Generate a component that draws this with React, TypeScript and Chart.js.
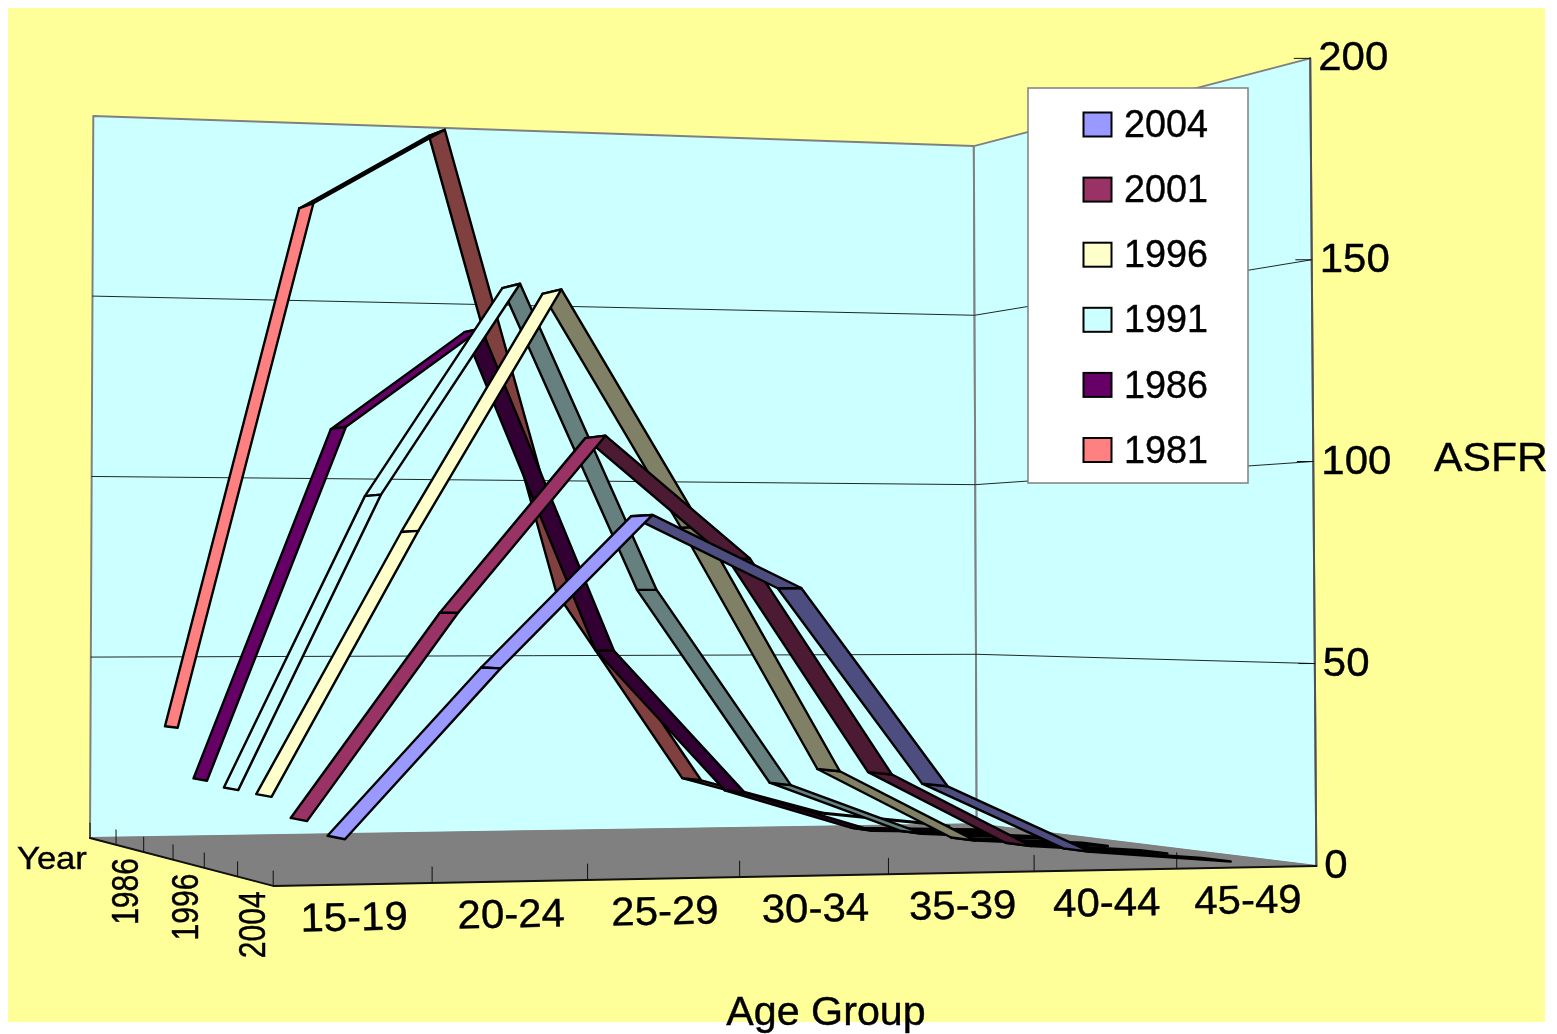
import React, { useEffect, useRef } from "react";
import { Chart, registerables } from "chart.js";

Chart.register(...registerables);

const ageGroups = ["15-19", "20-24", "25-29", "30-34", "35-39", "40-44", "45-49"];
const years = ["1981", "1986", "1991", "1996", "2001", "2004"];
const shownYears = ["1986", "1996", "2004"];
const valueTicks = [0, 50, 100, 150, 200];

const asfr1981 = [31, 175, 196.5, 68, 15, 5, 1];
const asfr1986 = [18, 112, 139, 52, 13, 2, 1];
const asfr1991 = [17, 93, 148.5, 68.5, 16.5, 3, 1];
const asfr1996 = [16.8, 83, 144.5, 84.5, 21.5, 3, 1];
const asfr2001 = [12.5, 62.5, 106, 76, 22, 3.5, 1];
const asfr2004 = [10, 49.5, 85.8, 68.5, 20.5, 4, 1];
const seriesValues = [asfr1981, asfr1986, asfr1991, asfr1996, asfr2001, asfr2004];

const seriesColors = ["#ff8080", "#660066", "#ccffff", "#ffffcc", "#993366", "#9999ff"];
const fallingColors = ["#804040", "#330033", "#668080", "#808066", "#4d1a33", "#4d4d80"];

const W = 1557;
const H = 1034;
const VALUE_MAX = 200;
const RIBBON_HALF = 0.038;

// Perspective of the 3D box: u along age axis, d from back wall to front, t height (all 0..1).
function project(u: number, d: number, t: number) {
  const xn = 124.65 + 1316 * u + 189 * d + 5.5 * t;
  const yn = 1160.6 + 55 * u - 143.6 * d - 999.5 * t;
  const wBase = 1.385 + 0.09 * u - 0.237 * d;
  return { x: xn / (wBase + 0.01 * t), y: yn / (wBase + 0.004 * t) };
}

const ageU = (i: number) => ((i + 0.5) / ageGroups.length) * 0.997;
const laneD = (k: number) => ((k + 0.5) / years.length) * 1.012;

function poly(points: { x: number; y: number }[], fill: string | null, stroke: string, width: number) {
  return {
    data: points,
    showLine: true,
    tension: 0,
    pointRadius: 0,
    pointHoverRadius: 0,
    borderColor: stroke,
    borderWidth: width,
    backgroundColor: fill ?? "transparent",
    fill: fill ? "shape" : false,
    borderJoinStyle: "round",
    borderCapStyle: "round",
    clip: false,
  };
}

function buildDatasets() {
  const out: any[] = [];
  const WALL = "#ccffff";
  const EDGE = "#808080";
  // back wall
  out.push(poly([project(0, 0, 0), project(1, 0, 0), project(1, 0, 1), project(0, 0, 1), project(0, 0, 0)], WALL, EDGE, 2));
  // side wall
  out.push(poly([project(1, 0, 0), project(1, 1, 0), project(1, 1, 1), project(1, 0, 1), project(1, 0, 0)], WALL, EDGE, 2));
  // floor
  out.push(poly([project(0, 0, 0), project(1, 0, 0), project(1, 1, 0), project(0, 1, 0), project(0, 0, 0)], "#808080", "#808080", 1));
  // grid lines
  valueTicks.slice(1, -1).forEach((v) => {
    const t = v / VALUE_MAX;
    out.push(poly([project(0, 0, t), project(1, 0, t), project(1, 1, t)], null, "#202828", 1));
  });
  // axis edges
  out.push(poly([project(1, 1, 0), project(1, 1, 1)], null, "#505050", 2));
  out.push(poly([project(0, 0, 0), project(0, 1, 0), project(1, 1, 0)], null, "#101010", 2));
  // axis ticks
  for (let i = 1; i < ageGroups.length; i++) {
    const p = project(i / ageGroups.length, 1, 0);
    out.push(poly([p, { x: p.x, y: p.y - 16 }], null, "#101010", 1));
  }
  for (let k = 0; k <= years.length; k++) {
    const p = project(0, k / years.length, 0);
    out.push(poly([p, { x: p.x, y: p.y - 15 }], null, "#101010", 1));
  }
  valueTicks.slice(1).forEach((v) => {
    const p = project(1, 1, v / VALUE_MAX);
    out.push(poly([p, { x: p.x - 16, y: p.y }], null, "#101010", 1));
  });
  // ribbons, back lane first, right-hand segments first within a lane
  seriesValues.forEach((vals, k) => {
    const d0 = laneD(k) - RIBBON_HALF;
    const d1 = laneD(k) + RIBBON_HALF;
    for (let i = vals.length - 2; i >= 0; i--) {
      const u0 = ageU(i);
      const u1 = ageU(i + 1);
      const t0 = vals[i] / VALUE_MAX;
      const t1 = vals[i + 1] / VALUE_MAX;
      const color = t1 >= t0 ? seriesColors[k] : fallingColors[k];
      out.push(
        poly(
          [project(u0, d0, t0), project(u1, d0, t1), project(u1, d1, t1), project(u0, d1, t0), project(u0, d0, t0)],
          color,
          "#000000",
          2.4
        )
      );
    }
  });
  // later datasets paint on top
  out.forEach((ds, i) => (ds.order = -i));
  return out;
}

function label(
  ctx: CanvasRenderingContext2D,
  text: string,
  x: number,
  y: number,
  size: number,
  stretch = 1.05,
  rot = 0,
  align: CanvasTextAlign = "left"
) {
  ctx.save();
  ctx.translate(x, y);
  ctx.scale(stretch, 1);
  ctx.rotate(rot);
  ctx.font = `${size}px "Liberation Sans", Arial, sans-serif`;
  ctx.fillStyle = "#000";
  ctx.strokeStyle = "#000";
  ctx.lineWidth = 0.4;
  ctx.textAlign = align;
  ctx.textBaseline = "middle";
  ctx.fillText(text, 0, 0);
  ctx.strokeText(text, 0, 0);
  ctx.restore();
}

const backgroundPlugin = {
  id: "sheet",
  beforeDraw(chart: any) {
    const { ctx } = chart;
    ctx.save();
    ctx.fillStyle = "#ffffff";
    ctx.fillRect(0, 0, W, H);
    ctx.fillStyle = "#ffff99";
    ctx.fillRect(8, 8, 1537, 1014);
    ctx.restore();
  },
};

const textPlugin = {
  id: "texts",
  afterDatasetsDraw(chart: any) {
    const { ctx } = chart;
    // legend
    ctx.save();
    ctx.fillStyle = "#ffffff";
    ctx.strokeStyle = "#808080";
    ctx.lineWidth = 1.5;
    ctx.fillRect(1028, 88, 220, 395);
    ctx.strokeRect(1028, 88, 220, 395);
    const rows = [...years].reverse();
    rows.forEach((yr, r) => {
      const k = years.indexOf(yr);
      const y = 124.5 + r * 65.1;
      ctx.fillStyle = seriesColors[k];
      ctx.strokeStyle = "#000";
      ctx.lineWidth = 2;
      ctx.fillRect(1083.5, y - 12, 28, 24);
      ctx.strokeRect(1083.5, y - 12, 28, 24);
      label(ctx, yr, 1124, y + 2, 38.5, 0.98);
    });
    ctx.restore();
    // age group labels
    ageGroups.forEach((a, i) => {
      const p = project((i + 0.5) / ageGroups.length, 1, 0);
      label(ctx, a, p.x + 1, p.y + 35, 40, 1.05, -0.02, "center");
    });
    // year labels
    shownYears.forEach((yr) => {
      const p = project(0, laneD(years.indexOf(yr)), 0);
      label(ctx, yr, p.x - 2, p.y + 43, 30, 1.2, -Math.PI / 2, "center");
    });
    // value labels
    valueTicks.forEach((v) => {
      const p = project(1, 1, v / VALUE_MAX);
      label(ctx, String(v), p.x + 8, p.y + 1, 40, 1.05);
    });
    label(ctx, "ASFR", 1434, 460, 41, 1.04);
    label(ctx, "Year", 17, 860, 32, 1.08);
    label(ctx, "Age Group", 826, 1014, 40, 1.03, 0, "center");
  },
};

export default function App() {
  const ref = useRef<HTMLCanvasElement>(null);
  useEffect(() => {
    const chart = new Chart(ref.current as HTMLCanvasElement, {
      type: "scatter",
      data: { datasets: buildDatasets() },
      options: {
        animation: false,
        responsive: false,
        devicePixelRatio: 1,
        layout: { padding: 0 },
        events: [],
        plugins: { legend: { display: false }, tooltip: { enabled: false } },
        scales: {
          x: { type: "linear", display: false, min: 0, max: W },
          y: { type: "linear", display: false, min: 0, max: H, reverse: true },
        },
      },
      plugins: [backgroundPlugin, textPlugin],
    } as any);
    return () => chart.destroy();
  }, []);
  return (
    <div style={{ position: "fixed", left: 0, top: 0, width: W, height: H }}>
      <canvas ref={ref} width={W} height={H} style={{ display: "block" }} />
    </div>
  );
}
